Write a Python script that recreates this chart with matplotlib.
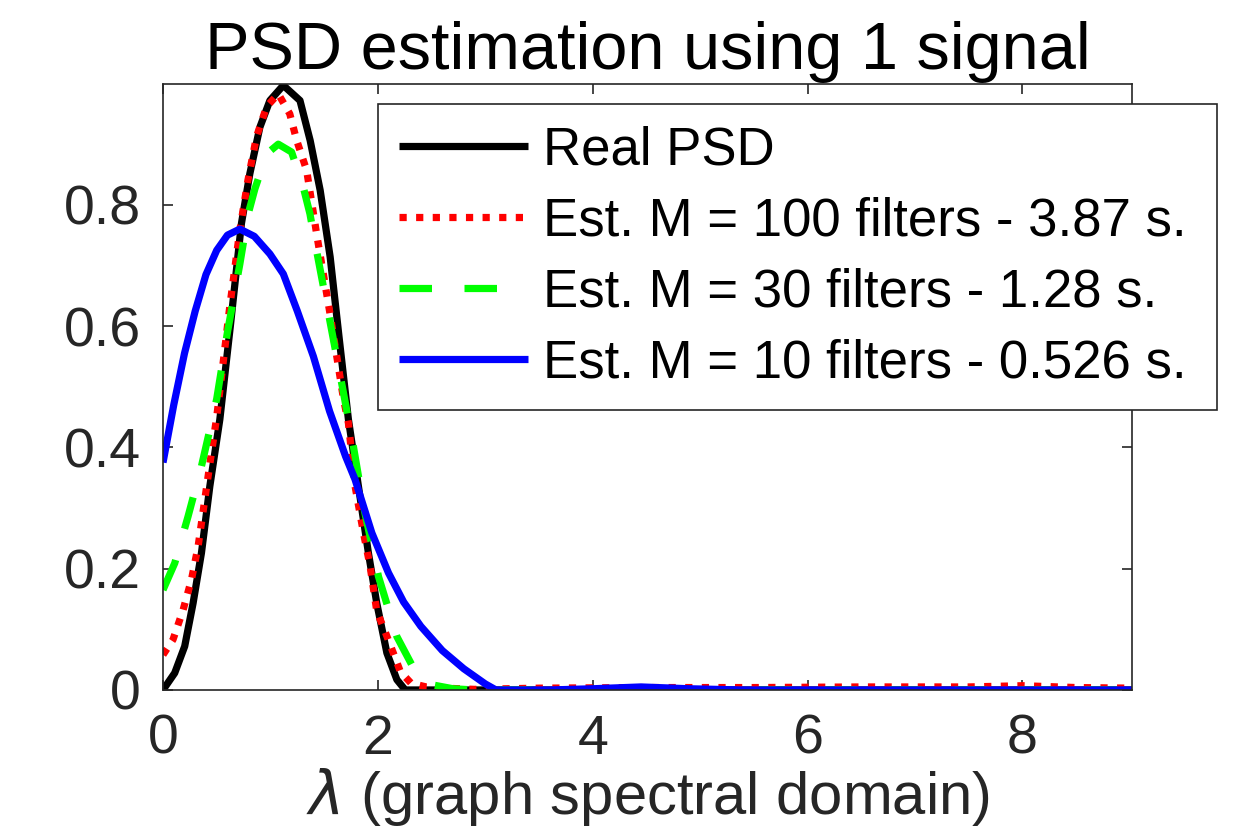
"""
PSD estimation with a graph filter bank - one signal
"""

### Import modules
import numpy as np
import matplotlib
matplotlib.use('Agg')
import matplotlib.pyplot as plt

### Data (lambda, PSD)
lam_real = [0.0, 0.109, 0.202, 0.28, 0.358, 0.436, 0.529, 0.63, 0.73, 0.808,
            0.902, 0.995, 1.12, 1.275, 1.37, 1.463, 1.556, 1.64, 1.726, 1.819,
            1.912, 1.99, 2.084, 2.177, 2.255, 9.02]
psd_real = [0.0, 0.028, 0.072, 0.143, 0.226, 0.336, 0.446, 0.605, 0.769, 0.851,
            0.928, 0.972, 0.997, 0.972, 0.906, 0.824, 0.714, 0.58, 0.446, 0.336,
            0.226, 0.143, 0.061, 0.017, 0.0, 0.0]

lam_m100 = [0.0, 0.093, 0.187, 0.265, 0.327, 0.389, 0.451, 0.50, 0.62, 0.715,
            0.79, 0.87, 0.965, 1.073, 1.18, 1.245, 1.337, 1.43, 1.555, 1.68,
            1.726, 1.788, 1.866, 1.928, 1.99, 2.07, 2.146, 2.21, 2.31, 2.45,
            2.62, 2.9, 3.5, 4.5, 5.5, 6.5, 7.5, 8.0, 8.5, 9.02]
psd_m100 = [0.058, 0.083, 0.132, 0.182, 0.237, 0.314, 0.391, 0.45, 0.63, 0.758,
            0.84, 0.912, 0.962, 0.983, 0.950, 0.906, 0.857, 0.752, 0.62, 0.48,
            0.44, 0.336, 0.259, 0.204, 0.13, 0.095, 0.06, 0.03, 0.011, 0.005,
            0.003, 0.001, 0.003, 0.004, 0.004, 0.005, 0.005, 0.007, 0.004, 0.003]

lam_m30 = [0.0, 0.109, 0.233, 0.358, 0.45, 0.5, 0.6, 0.715, 0.793, 0.855,
           0.965, 1.073, 1.197, 1.306, 1.368, 1.43, 1.555, 1.68, 1.772, 1.87,
           2.006, 2.177, 2.35, 2.52, 2.7, 2.9, 9.02]
psd_m30 = [0.165, 0.209, 0.286, 0.369, 0.44, 0.48, 0.59, 0.702, 0.785, 0.826,
           0.884, 0.90, 0.887, 0.829, 0.785, 0.724, 0.607, 0.49, 0.402, 0.30,
           0.187, 0.088, 0.03, 0.008, 0.002, 0.0, 0.0]

lam_m10 = [0.0, 0.1, 0.2, 0.3, 0.4, 0.5, 0.6, 0.715, 0.85, 0.995,
           1.12, 1.25, 1.4, 1.55, 1.7, 1.788, 1.944, 2.099, 2.24, 2.4,
           2.6, 2.8, 3.0, 3.1, 3.6, 4.0, 4.45, 4.9, 5.4, 9.02]
psd_m10 = [0.375, 0.47, 0.555, 0.625, 0.685, 0.725, 0.75, 0.76, 0.748, 0.719,
           0.686, 0.625, 0.55, 0.46, 0.385, 0.347, 0.259, 0.193, 0.145, 0.105,
           0.065, 0.035, 0.01, 0.0, 0.0, 0.002, 0.005, 0.002, 0.0, 0.0]

labels = ['Real PSD',
          'Est. M = 100 filters - 3.87 s.',
          'Est. M = 30 filters - 1.28 s.',
          'Est. M = 10 filters - 0.526 s.']

xticks = [0, 2, 4, 6, 8]
yticks = [0, 0.2, 0.4, 0.6, 0.8]

###############################################################################
### Plot figure
plt.rc('font', family='Liberation Sans')
plt.rc('mathtext', fontset='dejavusans')

fig = plt.figure(figsize=(12.5, 8.33), dpi=100)
ax = fig.add_axes([0.1304, 0.1717, 0.7752, 0.7273])

lw = 5.2
ax.plot(lam_real, psd_real, color='k', linewidth=lw, label=labels[0],
        solid_capstyle='butt', solid_joinstyle='round')
ax.plot(lam_m100, psd_m100, color=(1, 0, 0), linewidth=lw, label=labels[1],
        linestyle=(0, (1, 1.3)), dash_capstyle='butt')
ax.plot(lam_m30, psd_m30, color=(0, 1, 0), linewidth=lw, label=labels[2],
        linestyle=(0, (4.5, 4.5)), dash_capstyle='butt')
ax.plot(lam_m10, psd_m10, color=(0, 0, 1), linewidth=lw, label=labels[3],
        solid_capstyle='butt', solid_joinstyle='round')

ax.set_xlim([0, 9.02])
ax.set_ylim([0, 0.999])
ax.set_xticks(xticks)
ax.set_xticklabels([str(t) for t in xticks])
ax.set_yticks(yticks)
ax.set_yticklabels(['0', '0.2', '0.4', '0.6', '0.8'])

for sp in ax.spines.values():
    sp.set_color('#262626')
    sp.set_linewidth(1.2)
ax.tick_params('both', direction='in', length=7, width=1.2, color='#262626',
               labelcolor='#262626', labelsize=40, top=True, right=True)
ax.tick_params('x', pad=17)
ax.tick_params('y', pad=16)

ax.set_title('PSD estimation using 1 signal', fontsize=48, color='k', pad=11)
ax.set_xlabel(r'$\lambda$ (graph spectral domain)', fontsize=43,
              color='#262626', labelpad=0)

### Legend box spans past the right edge of the axes, as in the original
le = ax.legend(loc='upper left', bbox_to_anchor=(0.3024, 0.5186, 0.6712, 0.3566),
               bbox_transform=fig.transFigure, mode='expand', fontsize=38,
               frameon=True, fancybox=False, framealpha=1, edgecolor='#262626',
               borderaxespad=0, handlelength=2.44, handletextpad=0.28,
               borderpad=0.4, labelspacing=0.4)
le.get_frame().set_linewidth(1.2)

plt.savefig('out.png', dpi=100)
print('Completed: Figure plotted!')
